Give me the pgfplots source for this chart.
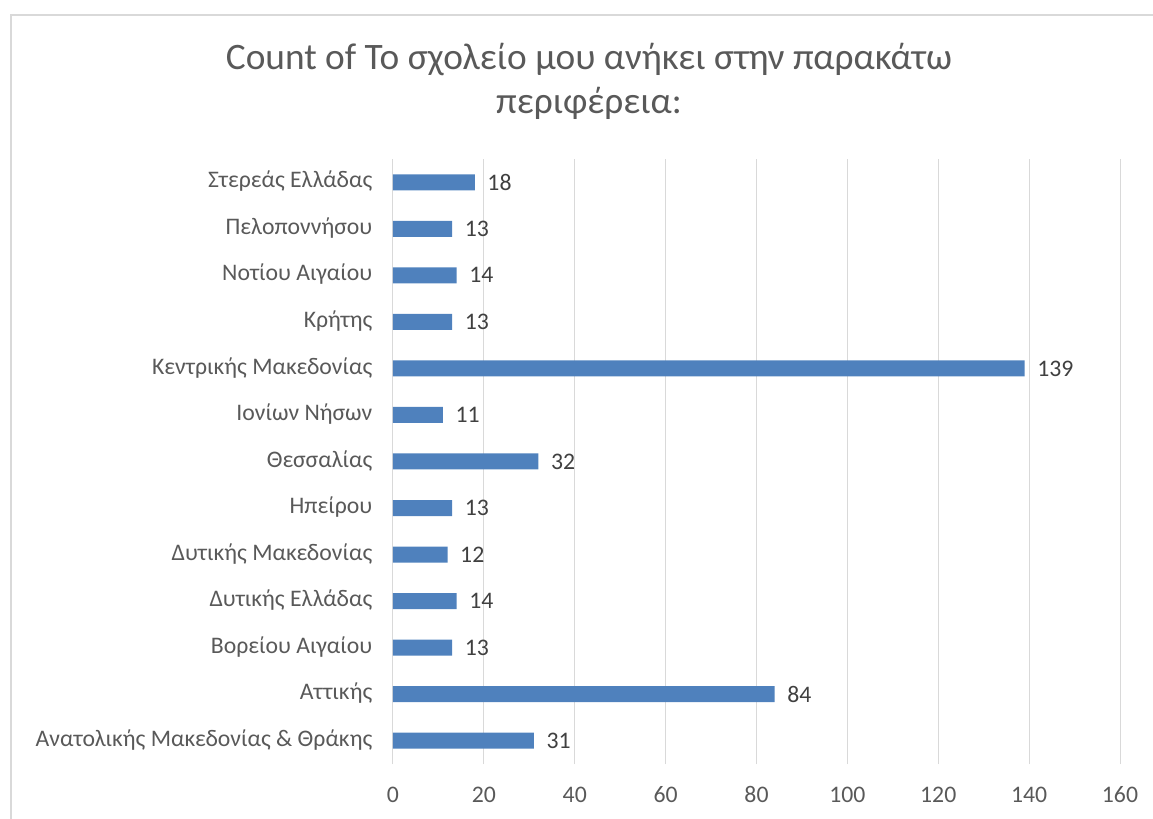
\documentclass[border=0pt]{standalone}
\usepackage{pgfplots}
\pgfplotsset{compat=1.18}
\usepackage{fontspec}
\setmainfont{Carlito}
\definecolor{barblue}{HTML}{4F81BD}
\definecolor{gridgray}{HTML}{D9D9D9}
\definecolor{txtgray}{HTML}{595959}
\definecolor{lblgray}{HTML}{404040}
\begin{document}
\begin{tikzpicture}[x=0.75pt,y=0.75pt]
\path[use as bounding box] (0,0) rectangle (1153,818);
\draw[gridgray, line width=1.5pt] (11,-10) -- (11,803) -- (1170,803);
\node[txtgray, font=\fontsize{28}{33}\selectfont, align=center] at (589,736.5) {Count of Το σχολείο μου ανήκει στην παρακάτω\\περιφέρεια:};
\begin{axis}[
  at={(294.75pt,40.5pt)}, anchor=south west,
  scale only axis, width=545.25pt, height=453.75pt,
  xbar, bar width=12pt,
  xmin=0, xmax=160, ymin=-0.5, ymax=12.5,
  xtick={0,20,...,160},
  ytick={0,...,12},
  yticklabels={Ανατολικής Μακεδονίας \& Θράκης, Αττικής, Βορείου Αιγαίου, Δυτικής Ελλάδας, Δυτικής Μακεδονίας, Ηπείρου, Θεσσαλίας, Ιονίων Νήσων, Κεντρικής Μακεδονίας, Κρήτης, Νοτίου Αιγαίου, Πελοποννήσου, Στερεάς Ελλάδας},
  xmajorgrids, grid style={gridgray, line width=0.75pt},
  axis line style={draw=none},
  major tick length=0pt,
  typeset ticklabels with strut,
  tick label style={font=\fontsize{17.8}{21}\selectfont, text=txtgray},
  x tick label style={yshift=-11pt},
  y tick label style={xshift=-12pt},
  /pgf/number format/assume math mode=true,
  nodes near coords,
  nodes near coords style={font=\fontsize{17.8}{21}\selectfont, text=lblgray, anchor=west, xshift=6pt},
]
\addplot[fill=barblue, draw=none] coordinates {
(31,0) (84,1) (13,2) (14,3) (12,4) (13,5) (32,6) (11,7) (139,8) (13,9) (14,10) (13,11) (18,12)
};
\end{axis}
\end{tikzpicture}
\end{document}
